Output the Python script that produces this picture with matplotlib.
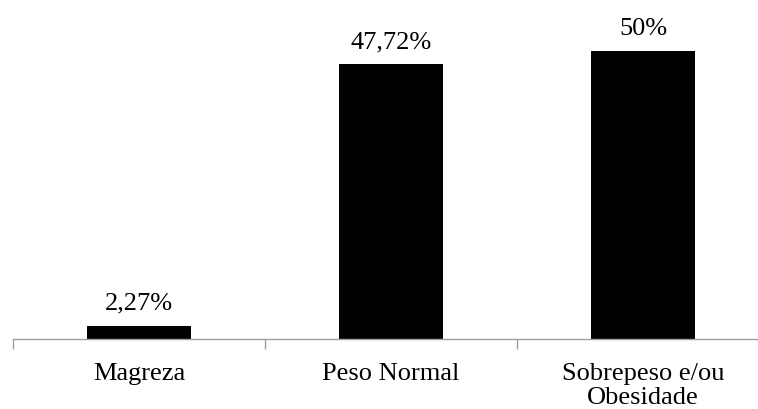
import numpy as np
import matplotlib
matplotlib.use("Agg")
import matplotlib.pyplot as plt

plt.rcParams['font.family'] = ['Liberation Serif', 'DejaVu Serif']

categories = ['Magreza', 'Peso Normal', 'Sobrepeso e/ou\nObesidade']
values = [2.27, 47.72, 50]
value_labels = ['2,27%', '47,72%', '50%']

fig = plt.figure(figsize=(7.58, 4.09), dpi=100)
# axis line at y=339 px, category boundaries every 252 px starting at x=13
ax = fig.add_axes([13 / 758, (409 - 339) / 409, 756 / 758, 329 / 409])

x = np.arange(len(categories))
ax.bar(x, values, width=0.41, color='black')
ax.set_xlim(-0.5, len(categories) - 0.5)
ax.set_ylim(0, 57.1)

for xi, v, lab in zip(x, values, value_labels):
    ax.annotate(lab, (xi, v), xytext=(0, 11.5), textcoords='offset points',
                ha='center', va='baseline', fontsize=19)

for s in ['top', 'right', 'left']:
    ax.spines[s].set_visible(False)
ax.spines['bottom'].set_color('#a0a0a0')
ax.spines['bottom'].set_linewidth(1)
ax.set_yticks([])

ax.set_xticks(x)
ax.set_xticklabels(categories, fontsize=19, linespacing=1.12)
ax.tick_params(axis='x', which='major', length=0, pad=17.5)
ax.set_xticks(np.arange(len(categories) + 1) - 0.5, minor=True)
ax.tick_params(axis='x', which='minor', length=7, width=1, color='#a0a0a0')

fig.savefig('out.png', dpi=100)
